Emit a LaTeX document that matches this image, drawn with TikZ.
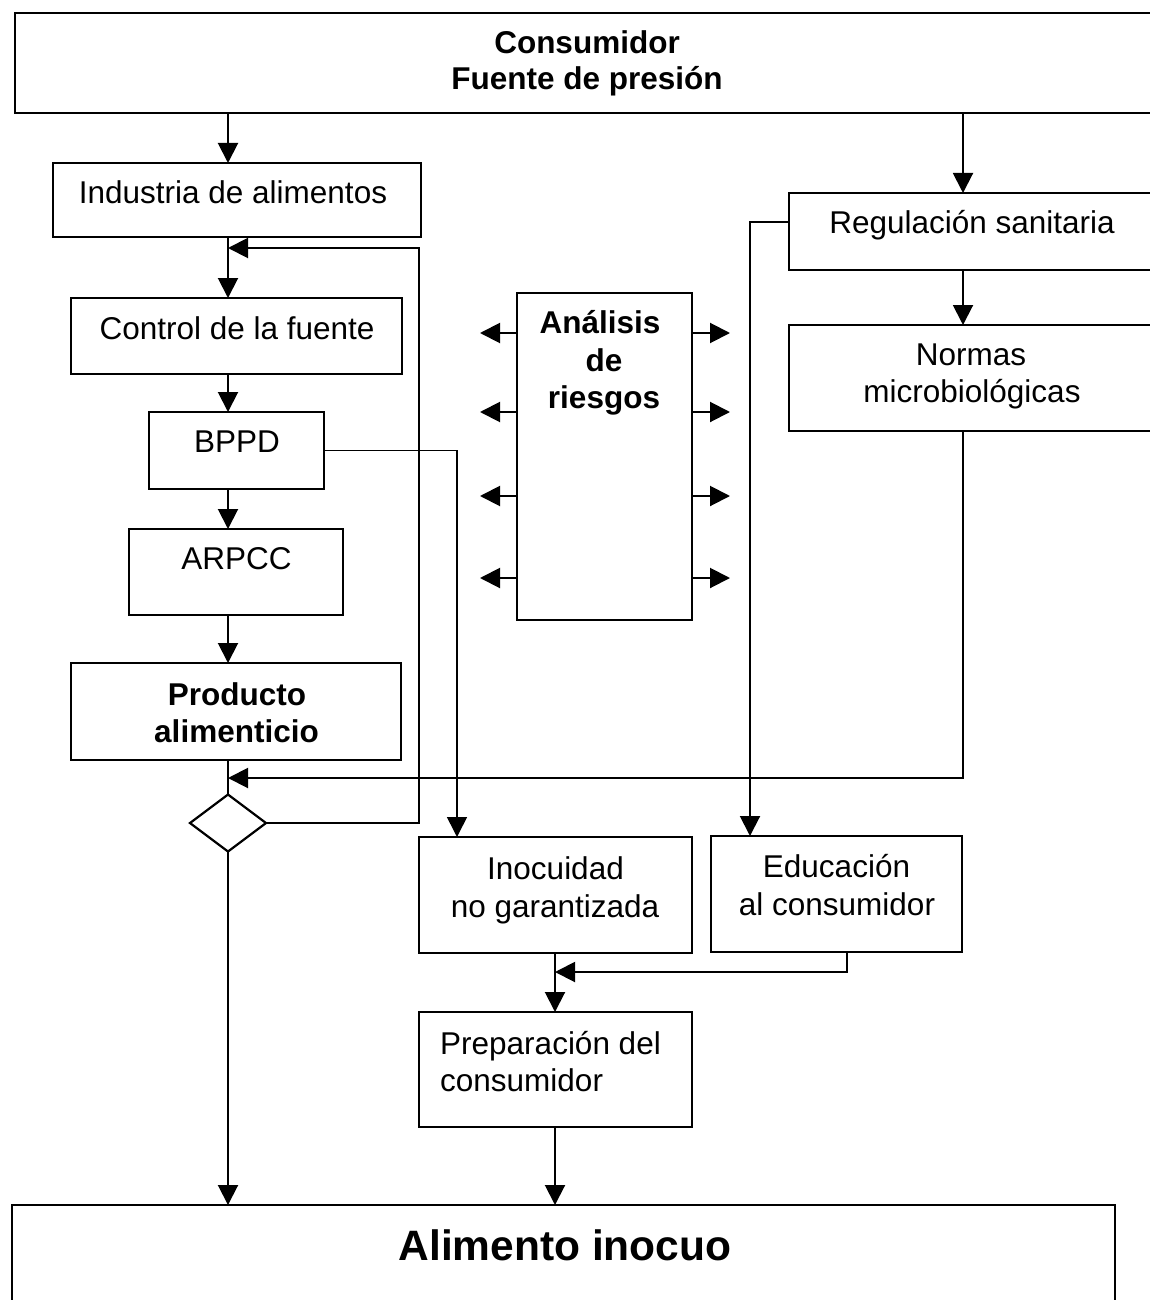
\documentclass[tikz,border=0pt]{standalone}
\usepackage{fontspec}
\setmainfont{Liberation Sans}
\usetikzlibrary{arrows.meta,shapes.geometric}
\begin{document}
\begin{tikzpicture}[x=1pt,y=-1pt,
  box/.style={draw, rectangle, line width=2.2pt, inner sep=0pt, outer sep=0pt},
  txt/.style={anchor=base, inner sep=0pt, font=\fontsize{31.5}{37}\selectfont},
  btxt/.style={txt, font=\fontsize{31.5}{37}\selectfont\bfseries},
  wire/.style={line width=2pt},
  conn/.style={wire, -{Triangle[length=20pt,width=20pt]}},
]
\clip (0,0) rectangle (1150,1300);
\fill[white] (0,0) rectangle (1150,1300);

% boxes
\node[box, minimum width=1145pt, minimum height=100pt] (top)   at (587.5,63)    {};
\node[box, minimum width=368pt,  minimum height=74pt]  (ind)   at (237,200)     {};
\node[box, minimum width=331pt,  minimum height=76pt]  (ctl)   at (236.5,336)   {};
\node[box, minimum width=175pt,  minimum height=77pt]  (bppd)  at (236.5,450.5) {};
\node[box, minimum width=214pt,  minimum height=86pt]  (arpcc) at (236,572)     {};
\node[box, minimum width=330pt,  minimum height=97pt]  (prod)  at (236,711.5)   {};
\node[draw, diamond, line width=2.2pt, inner sep=0pt, outer sep=0pt,
      minimum width=76pt, minimum height=57pt, aspect=1.33] (dia) at (228,823) {};
\node[box, minimum width=175pt,  minimum height=327pt] (ana)   at (604.5,456.5) {};
\node[box, minimum width=371pt,  minimum height=77pt]  (reg)   at (974.5,231.5) {};
\node[box, minimum width=371pt,  minimum height=106pt] (norm)  at (974.5,378)   {};
\node[box, minimum width=273pt,  minimum height=116pt] (inoc)  at (555.5,895)   {};
\node[box, minimum width=251pt,  minimum height=116pt] (edu)   at (836.5,894)   {};
\node[box, minimum width=273pt,  minimum height=115pt] (prep)  at (555.5,1069.5) {};
\node[box, minimum width=1103pt, minimum height=105pt] (alim)  at (563.5,1257.5) {};

% texts
\node[btxt] (t-top1)  at (587,54)    {Consumidor};
\node[btxt] (t-top2)  at (587,90)    {Fuente de presión};
\node[txt]  (t-ind)   at (233,204)   {Industria de alimentos};
\node[txt]  (t-reg)   at (972,233)   {Regulación sanitaria};
\node[txt]  (t-ctl)   at (237,339)   {Control de la fuente};
\node[txt]  (t-norm1) at (971,365)   {Normas};
\node[txt]  (t-norm2) at (972,402)   {microbiológicas};
\node[btxt] (t-ana1)  at (600,333)   {Análisis};
\node[btxt] (t-ana2)  at (604,371)   {de};
\node[btxt] (t-ana3)  at (604,408)   {riesgos};
\node[txt]  (t-bppd)  at (237,452)   {BPPD};
\node[txt]  (t-arpcc) at (236.5,569) {ARPCC};
\node[btxt] (t-prod1) at (237,705)   {Producto};
\node[btxt] (t-prod2) at (236.5,742) {alimenticio};
\node[txt]  (t-inoc1) at (555.5,879) {Inocuidad};
\node[txt]  (t-inoc2) at (555,917)   {no garantizada};
\node[txt]  (t-edu1)  at (836.5,877) {Educación};
\node[txt]  (t-edu2)  at (837,915)   {al consumidor};
\node[txt, anchor=base west] (t-prep1) at (440,1054) {Preparación del};
\node[txt, anchor=base west] (t-prep2) at (440,1091) {consumidor};
\node[btxt, font=\fontsize{42.5}{50}\selectfont\bfseries] (t-alim) at (565,1260) {Alimento inocuo};

% lanes and junctions
\coordinate (xl) at (228,0);
\coordinate (xr) at (963,0);
\coordinate (xm) at (555,0);
\coordinate (xb) at (457,0);
\coordinate (xg) at (750,0);
\coordinate (xf) at (419,0);
\coordinate (xe) at (847,0);
\coordinate (fbk) at (228,248);
\coordinate (jn)  at (228,778);
\coordinate (je)  at (555,972);
\coordinate (al1) at (480,333);
\coordinate (al2) at (480,412);
\coordinate (al3) at (480,496);
\coordinate (al4) at (480,578);
\coordinate (ar1) at (730,333);
\coordinate (ar2) at (730,412);
\coordinate (ar3) at (730,496);
\coordinate (ar4) at (730,578);

% main chain
\draw[conn] (top.south -| xl) -- (ind.north -| xl);
\draw[conn] (ind.south -| xl) -- (ctl.north -| xl);
\draw[conn] (ctl.south -| xl) -- (bppd.north -| xl);
\draw[conn] (bppd.south -| xl) -- (arpcc.north -| xl);
\draw[conn] (arpcc.south -| xl) -- (prod.north -| xl);
\draw[wire] (prod.south -| xl) -- (dia.north);
\draw[conn] (dia.south) -- (alim.north -| xl);

% feedback from the decision back to the source
\draw[conn] (dia.east) -- (dia.east -| xf) |- (fbk);

% regulation branch
\draw[conn] (top.south -| xr) -- (reg.north -| xr);
\draw[conn] (reg.south -| xr) -- (norm.north -| xr);
\draw[conn] (norm.south -| xr) |- (jn);
\draw[conn] ([yshift=9.5pt]reg.west) -| (edu.north -| xg);

% BPPD branch
\draw[conn, line width=1.6pt] (bppd.east) -| (inoc.north -| xb);

% consumer side
\draw[conn] (inoc.south -| xm) -- (prep.north -| xm);
\draw[conn] (edu.south -| xe) |- (je);
\draw[conn] (prep.south -| xm) -- (alim.north -| xm);

% risk analysis outputs
\foreach \i in {1,2,3,4}{
  \draw[conn] (ana.west |- al\i) -- (al\i);
  \draw[conn] (ana.east |- ar\i) -- (ar\i);
}
\end{tikzpicture}
\end{document}
